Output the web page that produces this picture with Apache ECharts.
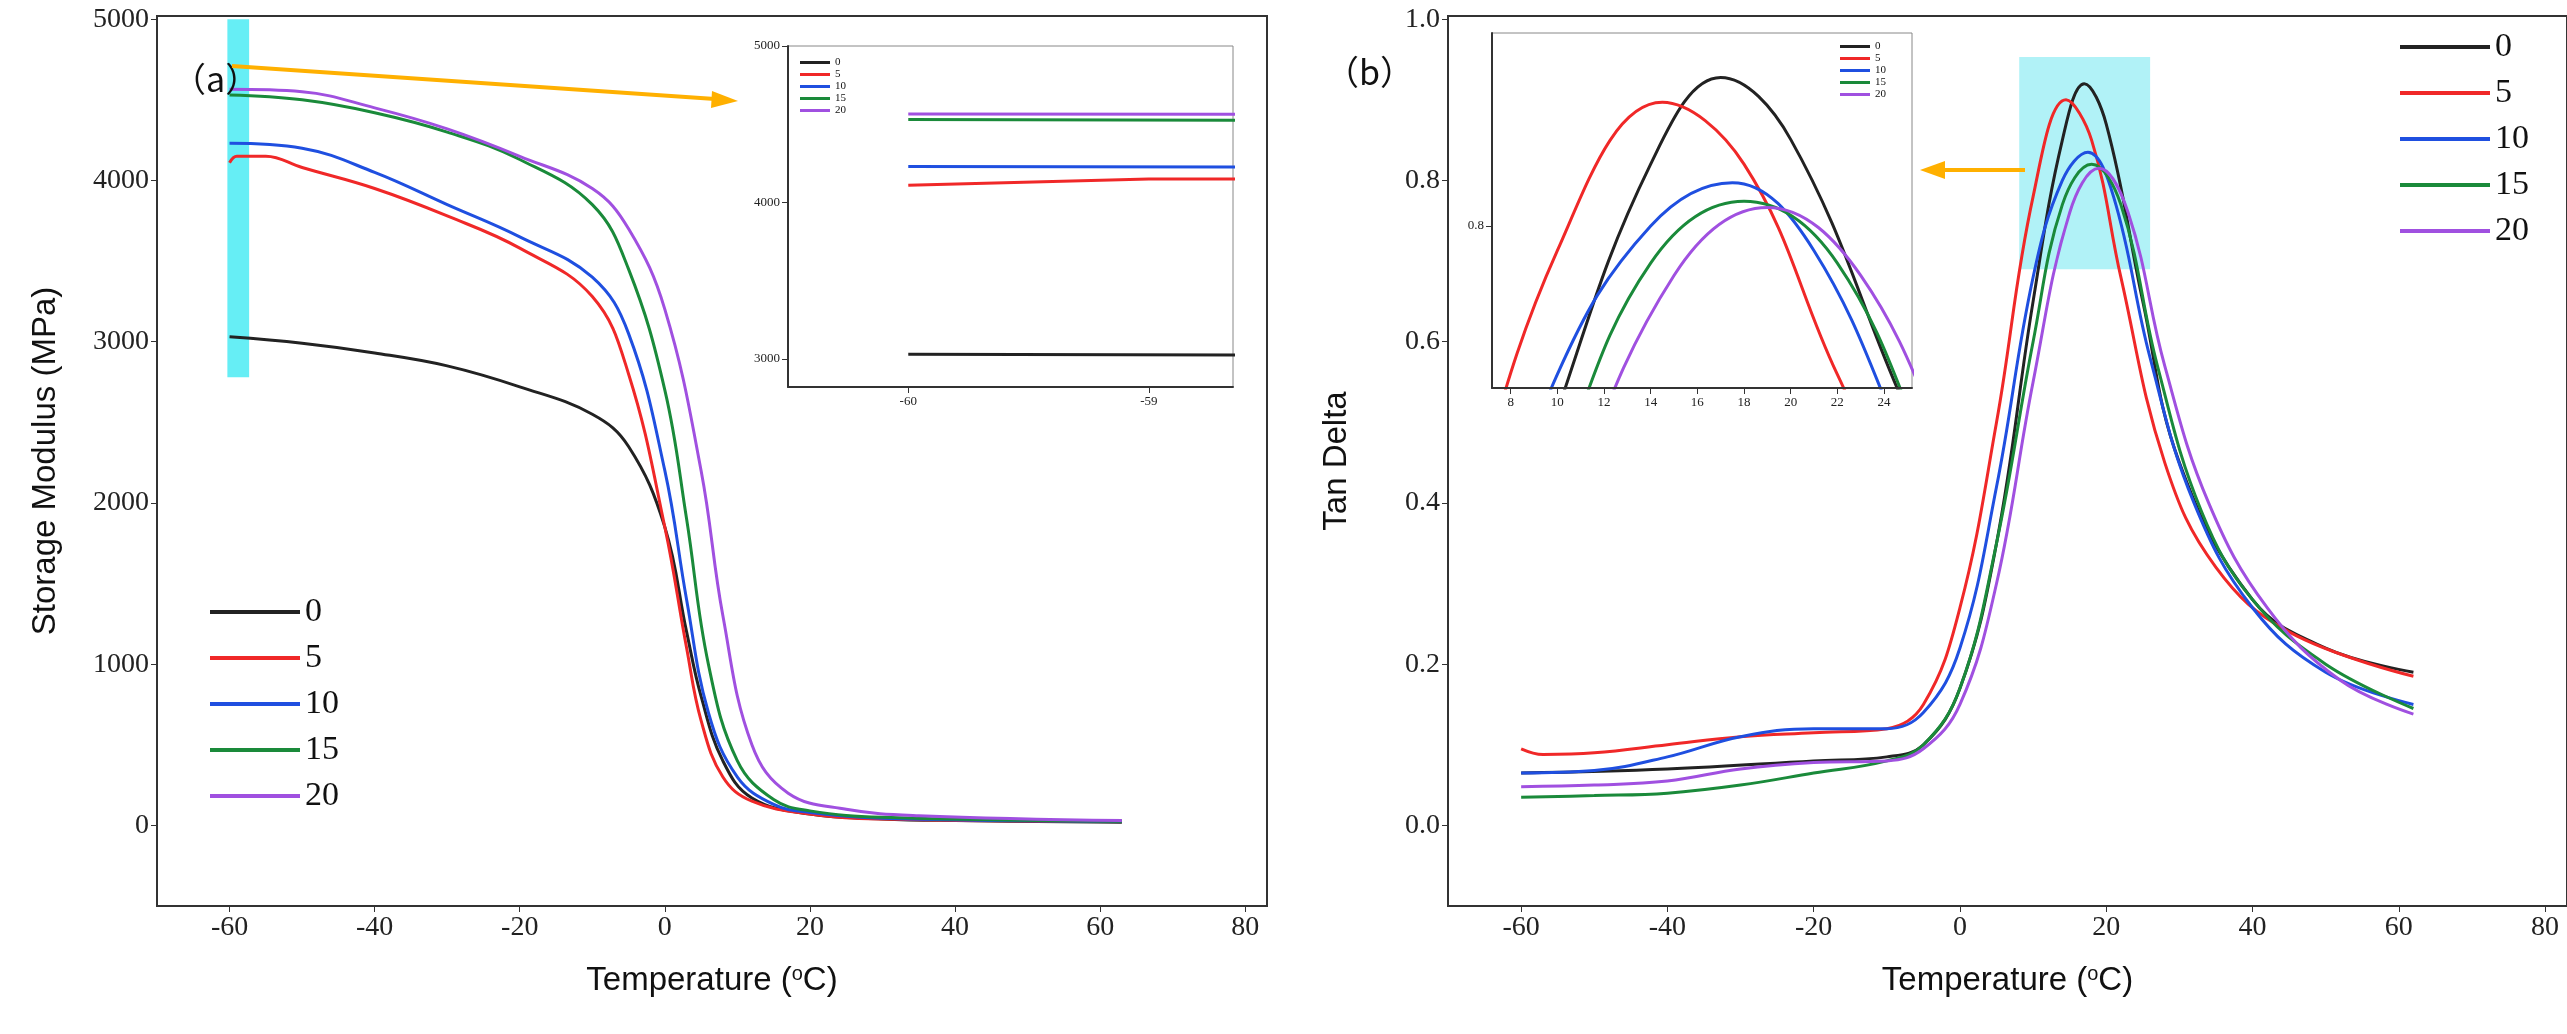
<!DOCTYPE html><html><head><meta charset="utf-8"><script src="https://cdn.jsdelivr.net/npm/echarts@6/dist/echarts.min.js"></script>
<style>html,body{margin:0;background:#fff}#c{width:2567px;height:1034px}</style></head><body><div id="c"></div><script>
const names=['0','5','10','15','20'];
const colors=['#222222','#f02828','#1f4fe0','#1a8a3a','#a050e0'];
const smod=[
[[-60,3030],[-50,2990],[-40,2930],[-30,2850],[-20,2720],[-10,2550],[-5,2350],[0,1850],[3,1200],[5,800],[8,400],[12,170],[20,70],[30,40],[40,30],[63,20]],
[[-60,4110],[-59,4150],[-55,4150],[-50,4080],[-40,3950],[-30,3780],[-20,3580],[-10,3280],[-5,2800],[0,1850],[3,1100],[5,650],[8,300],[12,150],[20,70],[30,40],[63,25]],
[[-60,4230],[-50,4200],[-40,4050],[-30,3850],[-20,3650],[-10,3400],[-5,3050],[0,2200],[3,1400],[6,700],[10,300],[15,130],[20,80],[30,45],[63,25]],
[[-60,4530],[-50,4500],[-40,4420],[-30,4300],[-20,4130],[-10,3850],[-5,3450],[0,2700],[3,1900],[6,1000],[10,400],[15,160],[20,90],[30,50],[63,25]],
[[-60,4565],[-50,4550],[-40,4450],[-30,4320],[-20,4150],[-10,3950],[-5,3700],[0,3200],[5,2200],[8,1300],[12,500],[17,200],[25,100],[35,60],[63,30]]];
const tand=[
[[-60,0.065],[-40,0.07],[-20,0.08],[-10,0.085],[-5,0.1],[0,0.17],[5,0.35],[10,0.65],[14,0.85],[17,0.92],[20,0.87],[25,0.65],[30,0.45],[40,0.28],[50,0.22],[62,0.19]],
[[-60,0.095],[-57,0.088],[-50,0.09],[-40,0.1],[-30,0.11],[-20,0.115],[-10,0.12],[-5,0.15],[0,0.27],[5,0.5],[10,0.78],[14.5,0.9],[18,0.85],[22,0.68],[28,0.45],[35,0.32],[45,0.24],[62,0.185]],
[[-60,0.065],[-50,0.068],[-40,0.085],[-30,0.11],[-20,0.12],[-10,0.12],[-5,0.14],[0,0.22],[5,0.42],[10,0.68],[14,0.8],[17.5,0.835],[21,0.78],[26,0.58],[32,0.4],[40,0.27],[50,0.19],[62,0.15]],
[[-60,0.035],[-50,0.037],[-40,0.04],[-30,0.05],[-20,0.065],[-10,0.08],[-5,0.1],[0,0.17],[5,0.35],[10,0.6],[14,0.77],[18,0.82],[22,0.77],[27,0.57],[33,0.39],[40,0.28],[50,0.2],[62,0.145]],
[[-60,0.048],[-50,0.05],[-40,0.055],[-30,0.07],[-20,0.078],[-10,0.08],[-5,0.095],[0,0.15],[5,0.3],[10,0.55],[15,0.76],[19,0.815],[23,0.76],[28,0.57],[34,0.4],[42,0.27],[52,0.18],[62,0.138]]];
const xTicks=[-60,-40,-20,0,20,40,60,80];
const yTicksA=[0,1000,2000,3000,4000,5000];
const yTicksB=[0,0.2,0.4,0.6,0.8,1.0];
const insetXTicksB=[8,10,12,14,16,18,20,22,24];
const serif='Liberation Serif';
function xa(gi,min,max,ticks,fs,name,fmt){return {type:'value',gridIndex:gi,min:min,max:max,name:name,nameLocation:'middle',nameGap:58,
 nameTextStyle:{fontFamily:'Liberation Sans',fontSize:33,color:'#111',rich:{s:{fontSize:20,verticalAlign:'top',fontFamily:'Liberation Sans',padding:[0,0,14,0]}}},
 axisLine:{onZero:false,lineStyle:{color:'#333',width:2}},splitLine:{show:false},axisTick:{customValues:ticks,length:6},
 axisLabel:{customValues:ticks,fontFamily:serif,fontSize:fs,color:'#222',formatter:fmt||(v=>String(v))}}}
function ya(gi,min,max,ticks,fs,name,fmt){return {type:'value',gridIndex:gi,min:min,max:max,name:name,nameLocation:'middle',nameGap:fs>20?95:0,
 nameTextStyle:{fontFamily:'Liberation Sans',fontSize:33,color:'#111'},
 axisLine:{onZero:false,lineStyle:{color:'#333',width:2}},splitLine:{show:false},axisTick:{customValues:ticks,length:6},
 axisLabel:{customValues:ticks,fontFamily:serif,fontSize:fs,color:'#222',formatter:fmt||(v=>String(v))}}}
const series=[];
names.forEach((n,i)=>{
 series.push({name:n,type:'line',xAxisIndex:0,yAxisIndex:0,data:smod[i],smooth:0.4,showSymbol:false,color:colors[i],lineStyle:{width:3},z:3});
 series.push({name:n,type:'line',xAxisIndex:1,yAxisIndex:1,data:smod[i],smooth:false,clip:true,showSymbol:false,color:colors[i],lineStyle:{width:3},z:10});
 series.push({name:n,type:'line',xAxisIndex:2,yAxisIndex:2,data:tand[i],smooth:0.4,showSymbol:false,color:colors[i],lineStyle:{width:3},z:3});
 series.push({name:n,type:'line',xAxisIndex:3,yAxisIndex:3,data:tand[i],smooth:0.4,clip:true,showSymbol:false,color:colors[i],lineStyle:{width:3},z:10});
});
series[0].markArea={silent:true,itemStyle:{color:'#66eef5'},data:[[{coord:[-60.3,2780]},{coord:[-57.3,5000]}]]};
series[2].markArea={silent:true,itemStyle:{color:'rgba(100,230,240,0.5)'},data:[[{coord:[8.1,0.69]},{coord:[26,0.953]}]]};
const lg=(o)=>Object.assign({data:names,orient:'vertical',itemWidth:90,itemHeight:4,itemGap:12,icon:'rect',textStyle:{fontFamily:serif,fontSize:34,color:'#111'}},o);
const lgs=(o)=>Object.assign({data:names,orient:'vertical',itemWidth:30,itemHeight:3,itemGap:1,icon:'rect',textStyle:{fontFamily:serif,fontSize:11,color:'#111'}},o);
const opt={animation:false,
grid:[{left:157,top:16,width:1110,height:890,show:true,borderColor:'#333',borderWidth:2},
 {left:788,top:46,width:445,height:341,show:true,borderColor:'#888',borderWidth:1,backgroundColor:'#fff',z:5},
 {left:1448,top:16,width:1120,height:890,show:true,borderColor:'#333',borderWidth:2},
 {left:1492,top:33,width:420,height:355,show:true,borderColor:'#888',borderWidth:1,backgroundColor:'#fff',z:5}],
xAxis:[xa(0,-70,83,xTicks,28,'Temperature ({s|o}C)'),
 Object.assign(xa(1,-60.5,-58.65,[-60,-59],13,'',v=>v==-60?'-60':'-59'),{z:11}),
 xa(2,-70,83,xTicks,28,'Temperature ({s|o}C)'),
 Object.assign(xa(3,7.2,25.2,insetXTicksB,13,''),{z:11})],
yAxis:[ya(0,-500,5020,yTicksA,28,'Storage Modulus (MPa)'),
 Object.assign(ya(1,2820,5000,[3000,4000,5000],13,''),{z:11}),
 ya(2,-0.1,1.004,yTicksB,28,'Tan Delta',v=>v.toFixed(1)),
 Object.assign(ya(3,0.669,0.956,[0.8],13,'',v=>v.toFixed(1)),{z:11})],
legend:[lg({left:205,top:590}),lg({left:2395,top:25}),lgs({left:795,top:52,z:12}),lgs({left:1835,top:36,z:12})],
graphic:[
 {type:'text',left:172,top:62,z:50,style:{text:'（a）',font:'34px "Noto Sans CJK SC"',fill:'#111'}},
 {type:'text',left:1325,top:55,z:50,style:{text:'（b）',font:'34px "Noto Sans CJK SC"',fill:'#111'}},
 {type:'line',z:50,shape:{x1:232,y1:66,x2:715,y2:99},style:{stroke:'#ffb000',lineWidth:4}},
 {type:'polygon',z:50,shape:{points:[[738,101],[712,91],[711,108]]},style:{fill:'#ffb000'}},
 {type:'line',z:50,shape:{x1:2025,y1:170,x2:1942,y2:170},style:{stroke:'#ffb000',lineWidth:4}},
 {type:'polygon',z:50,shape:{points:[[1920,170],[1945,161],[1945,179]]},style:{fill:'#ffb000'}}
],
series:series};
echarts.init(document.getElementById('c')).setOption(opt);
</script></body></html>
